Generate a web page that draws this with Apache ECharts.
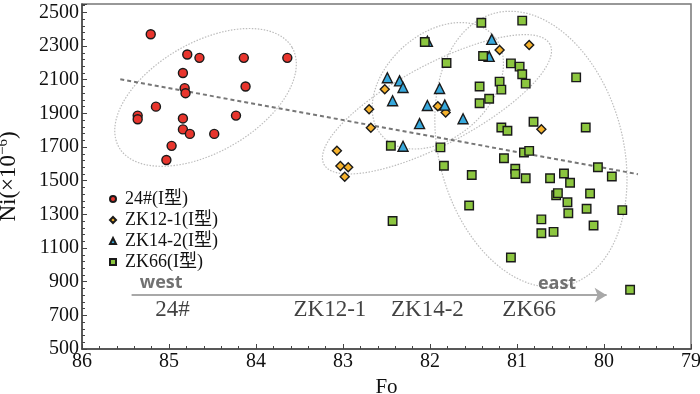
<!DOCTYPE html>
<html>
<head>
<meta charset="utf-8">
<script src="https://cdn.jsdelivr.net/npm/echarts@6/dist/echarts.min.js"></script>
<style>html,body{margin:0;padding:0;background:#fff}#chart{width:700px;height:394px}</style>
</head>
<body>
<div id="chart"></div>
<script>
// [Fo, Ni] pairs
const pts24 = [[85.21, 2370], [84.79, 2250], [84.65, 2230], [84.14, 2230], [83.64, 2230], [84.84, 2140],
  [84.82, 2050], [84.81, 2020], [84.12, 2060], [85.15, 1940], [85.36, 1887], [85.36, 1865], [84.84, 1870],
  [84.23, 1887], [84.84, 1805], [84.76, 1778], [84.48, 1778], [84.97, 1707], [85.03, 1623]];
const ptsZK121 = [[82.52, 2043], [82.70, 1924], [82.68, 1815], [81.91, 1942], [81.82, 1905], [81.20, 2276],
  [80.86, 2306], [80.72, 1806], [83.07, 1678], [83.03, 1588], [82.94, 1580], [82.98, 1524]];
const ptsZK142 = [[82.03, 2328], [81.29, 2340], [81.32, 2239], [82.49, 2112], [82.35, 2093], [82.31, 2054],
  [81.89, 2048], [82.43, 1975], [82.03, 1947], [81.83, 1949], [82.12, 1839], [81.62, 1868], [82.31, 1705]];
const ptsZK66 = [[82.06, 2324], [81.41, 2439], [80.94, 2451], [81.81, 2199], [81.39, 2241], [81.07, 2197],
  [80.97, 2178], [80.94, 2133], [80.90, 2077], [80.32, 2114], [81.20, 2089], [81.18, 2041], [81.43, 2060],
  [81.32, 1987], [81.43, 1960], [80.81, 1850], [81.18, 1816], [81.11, 1797], [80.21, 1816], [82.45, 1708],
  [81.88, 1698], [81.84, 1589], [80.92, 1668], [80.86, 1677], [81.15, 1633], [81.52, 1534], [81.02, 1571],
  [81.02, 1540], [80.90, 1515], [80.62, 1515], [80.46, 1543], [80.39, 1488], [80.07, 1580], [79.91, 1525],
  [80.16, 1424], [80.55, 1414], [80.53, 1426], [80.42, 1372], [80.20, 1333], [80.41, 1307], [79.79, 1325],
  [81.55, 1353], [80.72, 1270], [80.12, 1234], [80.72, 1188], [80.58, 1196], [81.07, 1044], [79.70, 852],
  [82.43, 1261]];
const trendLine = [[85.56, 2103], [79.61, 1539]];
const seriesNames = ['24#(I型)', 'ZK12-1(I型)', 'ZK14-2(I型)', 'ZK66(I型)'];
const groupNames = ['24#', 'ZK12-1', 'ZK14-2', 'ZK66'];
const groupFo = [84.96, 83.15, 82.03, 80.86];
const yTicks = [500, 700, 900, 1100, 1300, 1500, 1700, 1900, 2100, 2300, 2500];

// field outlines: centre plus two conjugate half axes, in data units
const ellipses = [
  { c: [84.58, 1995], a: [-0.995, 297], b: [0.316, 282] },
  { c: [81.92, 1954], a: [-1.299, 357], b: [0.216, 210] },
  { c: [81.91, 2064], a: [-0.640, 298], b: [0.400, 229] },
  { c: [80.84, 1687], a: [-0.420, -808], b: [-1.022, 141] }
];

const serif = 'Liberation Serif, Noto Sans CJK SC, serif';
const edge = '#1a1a1a';

function scatter(name, data, symbol, size, color) {
  return {
    name: name, type: 'scatter', data: data, symbol: symbol, symbolSize: size, z: 5,
    itemStyle: { color: color, borderColor: edge, borderWidth: 1.4, opacity: 1 }
  };
}

function renderEllipse(params, api) {
  const e = ellipses[params.dataIndex];
  const pts = [];
  for (let i = 0; i <= 90; i++) {
    const t = i / 90 * Math.PI * 2;
    pts.push(api.coord([
      e.c[0] + e.a[0] * Math.cos(t) + e.b[0] * Math.sin(t),
      e.c[1] + e.a[1] * Math.cos(t) + e.b[1] * Math.sin(t)
    ]));
  }
  return {
    type: 'polyline', shape: { points: pts },
    style: { fill: null, stroke: '#bdbdbd', lineWidth: 1.2, lineDash: [1.5, 1.5] }
  };
}

const noteFont = { fontFamily: serif, fontSize: 23, color: '#111', textBorderWidth: 0 };
const dirFont = { fontFamily: 'Open Sans, sans-serif', fontWeight: 'bold', fontSize: 18, color: '#4d4d4d', textBorderWidth: 0 };
const notes = groupNames.map((n, i) => ({ name: n, value: [groupFo[i], 731], label: noteFont }));
notes.push({ name: 'west', value: [85.09, 892], label: dirFont });
notes.push({ name: 'east', value: [80.54, 886], label: dirFont });

const chart = echarts.init(document.getElementById('chart'));
chart.setOption({
  animation: false,
  grid: {
    left: 82, right: 9, top: 4, bottom: 45, show: true, borderColor: '#777', borderWidth: 1.5,
    containLabel: false, outerBoundsMode: 'none'
  },
  legend: {
    orient: 'vertical', left: 104, top: 185, itemWidth: 6, itemHeight: 6, itemGap: 3,
    textStyle: { fontFamily: serif, fontSize: 18, color: '#111', padding: [0, 0, 0, 4] },
    data: [
      { name: seriesNames[0], icon: 'circle' },
      { name: seriesNames[1], icon: 'diamond' },
      { name: seriesNames[2], icon: 'triangle' },
      { name: seriesNames[3], icon: 'rect' }
    ]
  },
  xAxis: {
    type: 'value', min: 79, max: 86, interval: 1, inverse: true,
    name: 'Fo', nameLocation: 'middle', nameGap: 26,
    nameTextStyle: { fontFamily: serif, fontSize: 21, color: '#111' },
    axisLine: { lineStyle: { color: '#444', width: 1.5 } },
    axisTick: { inside: true, length: 5, lineStyle: { color: '#444' } },
    minorTick: { show: true, splitNumber: 5, length: 3, lineStyle: { color: '#444' } },
    splitLine: { show: false },
    axisLabel: { fontFamily: serif, fontSize: 20, color: '#111', margin: 3 }
  },
  yAxis: {
    type: 'value', min: 500, max: 2550, interval: 200,
    name: 'Ni(×10{sup|−6})', nameLocation: 'middle', nameGap: 61,
    nameTextStyle: {
      fontFamily: serif, fontSize: 23, color: '#111',
      rich: { sup: { fontFamily: serif, fontSize: 15, color: '#111', padding: [0, 0, 10, 0] } }
    },
    axisLine: { lineStyle: { color: '#444', width: 1.5 } },
    axisTick: { inside: true, length: 5, lineStyle: { color: '#444' } },
    minorTick: { show: true, splitNumber: 5, length: 3, lineStyle: { color: '#444' } },
    splitLine: { show: false },
    axisLabel: {
      fontFamily: serif, fontSize: 20, color: '#111', margin: 3, showMaxLabel: false,
      formatter: v => (yTicks.indexOf(v) >= 0 ? String(v) : '')
    }
  },
  series: [
    {
      type: 'custom', name: 'outline', renderItem: renderEllipse, silent: true, z: 1,
      data: ellipses.map(e => e.c)
    },
    {
      type: 'line', name: 'trend', data: trendLine, symbol: 'none', silent: true, z: 2,
      lineStyle: { color: '#777', width: 2, type: [4, 3] },
      markLine: {
        silent: true, symbol: ['none', 'arrow'], symbolSize: [11, 12],
        label: { show: false },
        lineStyle: { color: '#a8a8a8', width: 2, type: 'solid' },
        data: [[{ coord: [85.43, 820] }, { coord: [79.97, 820] }]]
      }
    },
    scatter(seriesNames[0], pts24, 'circle', 9, '#e8352d'),
    scatter(seriesNames[1], ptsZK121, 'diamond', 9, '#f6b22c'),
    scatter(seriesNames[2], ptsZK142, 'triangle', 10, '#37a8dc'),
    scatter(seriesNames[3], ptsZK66, 'rect', 8.5, '#8cc63f'),
    {
      type: 'scatter', name: 'notes', data: notes, symbolSize: 0, silent: true, z: 3,
      label: { show: true, position: 'inside', formatter: '{b}' }
    }
  ]
});
</script>
</body>
</html>
